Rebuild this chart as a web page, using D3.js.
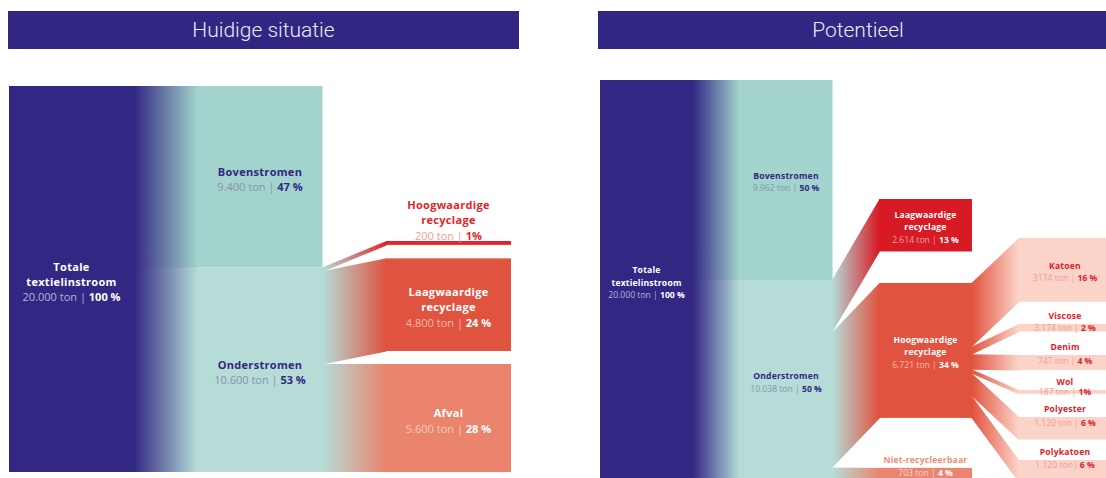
<!DOCTYPE html>
<html>
<head>
<meta charset="utf-8">
<script src="https://cdn.jsdelivr.net/npm/d3@7"></script>
<style>
  body { margin: 0; background: #fff; }
  svg { display: block; }
  text { font-family: "Open Sans", sans-serif; }
</style>
</head>
<body>
<svg id="chart" width="1106" height="478"></svg>
<script>
// ---- Data: Huidige situatie ----
let nowNames = ["Totale\ntextielinstroom", "Bovenstromen", "Onderstromen",
  "Hoogwaardige\nrecyclage", "Laagwaardige\nrecyclage", "Afval"];
let nowValues = [20000, 9400, 10600, 200, 4800, 5600];
let nowTons = ["20.000 ton |", "9.400 ton |", "10.600 ton |", "200 ton |", "4.800 ton |", "5.600 ton |"];
let nowPct = ["100 %", "47 %", "53 %", "1%", "24 %", "28 %"];
let nowLinks = [[0, 1], [0, 2], [2, 3], [2, 4], [2, 5]];

// ---- Data: Potentieel ----
let potNames = ["Totale\ntextielinstroom", "Bovenstromen", "Onderstromen",
  "Laagwaardige\nrecyclage", "Hoogwaardige\nrecyclage", "Niet-recycleerbaar",
  "Katoen", "Viscose", "Denim", "Wol", "Polyester", "Polykatoen"];
let potValues = [20000, 9962, 10038, 2614, 6721, 703, 3174, 373, 747, 187, 1120, 1120];
let potTons = ["20.000 ton |", "9.962 ton |", "10.038 ton |", "2.614 ton |", "6.721 ton |", "703 ton |",
  "3174 ton |", "3.174 ton |", "747 ton |", "187 ton |", "1.120 ton |", "1.120 ton|"];
let potPct = ["100 %", "50 %", "50 %", "13 %", "34 %", "4 %", "16 %", "2 %", "4 %", "1%", "6 %", "6 %"];
let potLinks = [[0, 1], [0, 2], [2, 3], [2, 4], [2, 5], [4, 6], [4, 7], [4, 8], [4, 9], [4, 10], [4, 11]];

// ---- Styles ----
const navy = "#322783";
const st = {
  navy:  { fill: navy,      name: "#ffffff", ton: "#b7b2de", pct: "#ffffff" },
  tealA: { fill: "#a2d3cc", name: navy,      ton: "#8794ae", pct: navy },
  tealB: { fill: "#b6dcd8", name: navy,      ton: "#8794ae", pct: navy },
  hoogL: { fill: "#e4232a", name: "#e4232a", ton: "#f29d98", pct: "#e4232a" },
  laag:  { fill: "#e0533f", name: "#ffffff", ton: "#f6b8ac", pct: "#ffffff" },
  afval: { fill: "#ea846d", name: "#ffffff", ton: "#f8c8bb", pct: "#ffffff" },
  laagR: { fill: "#d71a24", name: "#ffffff", ton: "#f0a3a3", pct: "#ffffff" },
  niet:  { fill: "#ea866f", name: "#ee8d78", ton: "#fad3c9", pct: "#ffffff" },
  sub:   { fill: "#fbd3c8", name: "#e2202c", ton: "#ef9d95", pct: "#e2202c" }
};

let svg = d3.select("#chart");
let defs = svg.append("defs");
let gradId = 0;

function drawPanel(p) {
  let g = svg.append("g");

  // header bar
  g.append("rect")
    .attr("x", p.hx).attr("y", 11)
    .attr("width", p.hw).attr("height", 38)
    .attr("fill", "#312681");
  g.append("text")
    .attr("x", p.hx + p.hw / 2).attr("y", 30)
    .attr("text-anchor", "middle")
    .attr("dominant-baseline", "central")
    .style("font-family", "Roboto, sans-serif")
    .style("font-weight", 300)
    .style("font-size", "21px")
    .attr("fill", "#ecebf6")
    .text(p.title);

  // value -> pixel height, column -> x
  let h = d3.scaleLinear().domain([0, 20000]).range([0, p.height]);
  let colX = d3.scaleLinear().domain([0, 1]).range([p.x0, p.x0 + p.nodeW + p.gapW]);

  let nodes = p.names.map((name, i) => ({
    i: i, name: name, value: p.values[i], col: p.cols[i],
    style: st[p.styles[i]], mode: p.modes[i], outY: 0, inY: 0
  }));

  // stack the nodes of each column
  p.stacks.forEach(s => {
    let y = s.top;
    s.nodes.forEach((ni, k) => {
      if (k > 0) y += s.gaps[k - 1];
      nodes[ni].y0 = y;
      nodes[ni].y1 = y + h(nodes[ni].value);
      nodes[ni].inY = y;
      nodes[ni].outY = y;
      y = nodes[ni].y1;
    });
  });

  // links as straight bands with a colour gradient
  let area = d3.area().x(d => d.x).y0(d => d.y0).y1(d => d.y1);
  p.links.forEach(([s, t]) => {
    let src = nodes[s], tgt = nodes[t];
    let w = h(tgt.value);
    let x0 = colX(src.col) + p.nodeW, x1 = colX(tgt.col);
    // no gap on either side -> overlap a little to hide the seam
    let pad = (src.outY + w < src.y1 - 0.1 && Math.abs((tgt.inY + w) - tgt.y1) < 0.1) ? 0.6 : 0;
    let pts = [
      { x: x0 - 0.5, y0: src.outY, y1: src.outY + w + pad },
      { x: x1 + 0.5, y0: tgt.inY, y1: tgt.inY + w + pad }
    ];
    src.outY += w;
    tgt.inY += w;

    let id = "grad" + (gradId++);
    let lg = defs.append("linearGradient")
      .attr("id", id)
      .attr("gradientUnits", "userSpaceOnUse")
      .attr("x1", x0).attr("x2", x1).attr("y1", 0).attr("y2", 0);
    lg.append("stop").attr("offset", "0%").attr("stop-color", src.style.fill);
    lg.append("stop").attr("offset", "100%").attr("stop-color", tgt.style.fill);

    g.append("path")
      .attr("d", area(pts))
      .attr("fill", "url(#" + id + ")");
  });

  // nodes
  g.selectAll("rect.node")
    .data(nodes)
    .join("rect")
    .attr("class", "node")
    .attr("x", d => colX(d.col))
    .attr("y", d => d.y0)
    .attr("width", p.nodeW)
    .attr("height", d => d.y1 - d.y0)
    .attr("fill", d => d.style.fill);

  // labels
  nodes.forEach(d => {
    let lines = d.name.split("\n");
    let lh = p.lineH;
    let cx = colX(d.col) + p.nodeW / 2;
    let mid = (d.y0 + d.y1) / 2;
    let nameY = [], valY;
    if (d.mode === "center") {
      let n = lines.length + 1;
      let first = mid + 2 - (n - 1) / 2 * lh;
      lines.forEach((l, k) => nameY.push(first + k * lh));
      valY = first + lines.length * lh;
    } else if (d.mode === "above") {
      valY = d.y0 - 6.5;
      lines.forEach((l, k) => nameY.push(valY - (lines.length - k) * lh));
    } else {
      // split: name above the band, value on the band
      valY = Math.min(mid, d.y0 + 5.5);
      lines.forEach((l, k) => nameY.push(d.y0 - 8 - (lines.length - 1 - k) * lh));
    }

    lines.forEach((l, k) => {
      g.append("text")
        .attr("x", cx).attr("y", nameY[k])
        .attr("text-anchor", "middle")
        .attr("dominant-baseline", "central")
        .style("font-size", p.font + "px")
        .style("font-weight", 700)
        .style("letter-spacing", p.spacing + "px")
        .attr("fill", d.style.name)
        .text(l);
    });

    let vt = g.append("text")
      .attr("x", cx).attr("y", valY)
      .attr("text-anchor", "middle")
      .attr("dominant-baseline", "central")
      .style("font-size", p.font + "px");
    vt.append("tspan")
      .attr("fill", d.style.ton)
      .text(p.tons[d.i] + " ");
    vt.append("tspan")
      .attr("fill", d.style.pct)
      .style("font-weight", 700)
      .text(p.pct[d.i]);
  });
}

drawPanel({
  title: "Huidige situatie", hx: 8, hw: 511,
  names: nowNames, values: nowValues, tons: nowTons, pct: nowPct, links: nowLinks,
  cols: [0, 1, 1, 2, 2, 2],
  styles: ["navy", "tealA", "tealB", "hoogL", "laag", "afval"],
  modes: ["center", "center", "center", "above", "center", "center"],
  stacks: [
    { top: 86, nodes: [0], gaps: [] },
    { top: 86, nodes: [1, 2], gaps: [0] },
    { top: 241, nodes: [3, 4, 5], gaps: [13.5, 13] }
  ],
  height: 386, x0: 9, nodeW: 125, gapW: 63.5,
  font: 11, lineH: 15, spacing: 0.3
});

drawPanel({
  title: "Potentieel", hx: 598, hw: 520,
  names: potNames, values: potValues, tons: potTons, pct: potPct, links: potLinks,
  cols: [0, 1, 1, 2, 2, 2, 3, 3, 3, 3, 3, 3],
  styles: ["navy", "tealA", "tealB", "laagR", "laag", "niet", "sub", "sub", "sub", "sub", "sub", "sub"],
  modes: ["center", "center", "center", "center", "center", "split",
    "center", "split", "split", "split", "split", "split"],
  stacks: [
    { top: 80, nodes: [0], gaps: [] },
    { top: 80, nodes: [1, 2], gaps: [0] },
    { top: 199, nodes: [3, 4, 5], gaps: [31.5, 50] },
    { top: 238, nodes: [6, 7, 8, 9, 10, 11], gaps: [22.3, 23.5, 20, 23.25, 20.5] }
  ],
  height: 401.5, x0: 600, nodeW: 93, gapW: 46.5,
  font: 8.6, lineH: 12.7, spacing: 0.2
});
</script>
</body>
</html>
